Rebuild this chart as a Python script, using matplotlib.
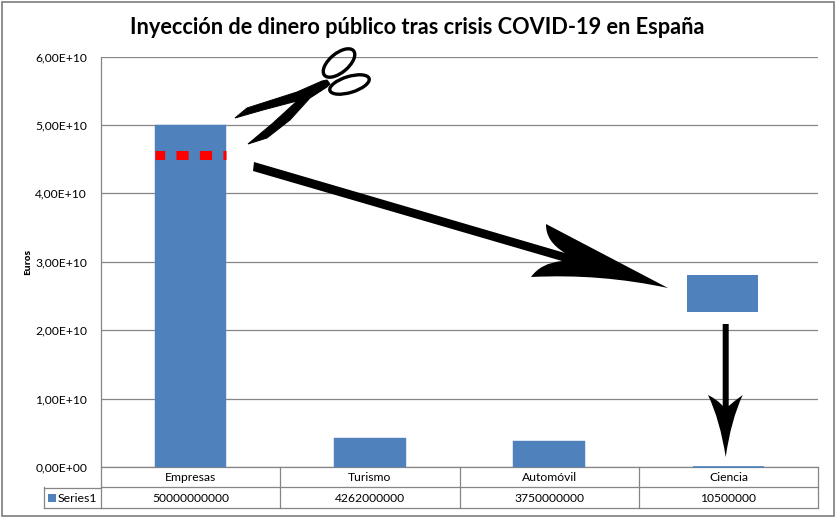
import matplotlib.pyplot as plt
from matplotlib.patches import Ellipse, PathPatch, Polygon, Rectangle
from matplotlib.path import Path

plt.rcParams['font.family'] = ['Lato', 'DejaVu Sans']

# Data
categories = ['Empresas', 'Turismo', 'Automóvil', 'Ciencia']
values = [50000000000, 4262000000, 3750000000, 10500000]
table_labels = ['50000000000', '4262000000', '3750000000', '10500000']
y_ticks = [0, 1e10, 2e10, 3e10, 4e10, 5e10, 6e10]
y_tick_labels = ['0,00E+00', '1,00E+10', '2,00E+10', '3,00E+10', '4,00E+10', '5,00E+10', '6,00E+10']
cut_level = 4.56e10

blue = '#4F81BD'
grey = '#868686'
W, H = 835, 517

fig = plt.figure(figsize=(W / 100, H / 100), dpi=100)

# Main plot area, placed in pixels
left, right, top, bottom = 101, 818, 56.5, 467
ax = fig.add_axes([left / W, 1 - bottom / H, (right - left) / W, (bottom - top) / H])
# the last bar is almost zero, a thicker edge keeps it visible
ax.bar(range(4), values, width=0.4, color=blue, edgecolor=blue,
       linewidth=[0.3, 0.3, 0.3, 1.2], zorder=3, clip_on=False)
ax.set_xlim(-0.5, 3.5)
ax.set_ylim(0, 6e10)
ax.set_yticks(y_ticks)
ax.set_yticklabels(y_tick_labels, fontsize=8.7, color='black')
ax.set_xticks([])
ax.tick_params(axis='y', length=0, pad=10)
ax.grid(True, axis='y', color=grey, linewidth=0.9, zorder=0)
for s in ['top', 'right']:
    ax.spines[s].set_visible(False)
ax.spines['left'].set_color(grey)
ax.spines['bottom'].set_color(grey)
ax.spines['left'].set_linewidth(0.9)
ax.spines['bottom'].set_linewidth(0.9)

# Red dashed cut line over the first bar
ax.plot([-0.2, 0.2], [cut_level, cut_level], color='#FF0000', linewidth=6.5,
        linestyle=(0.28, (1.35, 1.25)), dash_capstyle='butt', zorder=4)

# Overlay in pixel coordinates for table and drawn shapes
ov = fig.add_axes([0, 0, 1, 1], facecolor='none')
ov.set_xlim(0, W)
ov.set_ylim(H, 0)
ov.axis('off')

# Outer border
ov.add_patch(Rectangle((1.5, 1.5), 832, 514, fill=False, edgecolor=grey, linewidth=1.3))

# Data table below the plot (its top line is the axis spine)
columns = [101, 280, 459.5, 639, 818]
for yy in [487, 508]:
    ov.plot([101, 818], [yy, yy], color=grey, linewidth=0.9)
for xx in columns:
    ov.plot([xx, xx], [467, 508], color=grey, linewidth=0.9)
ov.plot([44, 101], [487.5, 487.5], color=grey, linewidth=0.9)
ov.plot([44, 101], [508, 508], color=grey, linewidth=0.9)
ov.plot([44, 44], [487, 508], color=grey, linewidth=0.9)
for i in range(4):
    cx = (columns[i] + columns[i + 1]) / 2
    ov.text(cx, 477.5, categories[i], ha='center', va='center', fontsize=8.7)
    ov.text(cx, 498, table_labels[i], ha='center', va='center', fontsize=8.7)
ov.add_patch(Rectangle((48, 494), 8, 8, color=blue, linewidth=0))
ov.text(58, 498, 'Series1', ha='left', va='center', fontsize=8.8)

# Titles
ov.text(417, 27, 'Inyección de dinero público tras crisis COVID-19 en España',
        ha='center', va='center', fontsize=15.7, fontweight='bold')
ov.text(28, 262, 'Euros', rotation=90, ha='center', va='center', fontsize=6.8,
        fontweight='bold', family=['Open Sans', 'DejaVu Sans'])

# Moved piece of the bar
ov.add_patch(Rectangle((687, 275), 71, 37, color=blue, linewidth=0))

# Long arrow
C3, L2, MV = Path.CURVE3, Path.LINETO, Path.MOVETO
long_arrow = Path(
    [(254, 162), (565, 253), (545.5, 241.5), (546, 224), (668, 288),
     (600.5, 273.5), (531, 277), (541, 263), (562, 261), (253, 171), (254, 162)],
    [MV, L2, C3, C3, L2, C3, C3, C3, C3, L2, L2])
ov.add_patch(PathPatch(long_arrow, facecolor='black', edgecolor='none'))

# Down arrow
down_arrow = Path(
    [(722.7, 324), (728.7, 324), (728.7, 406), (733, 402), (742.7, 395),
     (731, 420), (725.7, 457), (720, 420), (708, 395), (718, 400), (722.7, 406), (722.7, 324)],
    [MV, L2, L2, C3, C3, C3, C3, C3, C3, C3, C3, L2])
ov.add_patch(PathPatch(down_arrow, facecolor='black', edgecolor='none'))

# Scissors
ov.add_patch(Polygon([(235, 118), (247, 108), (297, 92), (322, 81), (327, 80), (330, 84),
                      (327, 87), (310, 98), (290, 120), (267, 138), (248, 144), (273, 123),
                      (297, 101), (263, 110)], closed=True, facecolor='black',
                     edgecolor='black', linewidth=0.7))
ov.add_patch(Ellipse((339, 63), 38, 19, angle=-40, fill=False, edgecolor='black', linewidth=2.4))
ov.add_patch(Ellipse((349.5, 84.5), 41, 16, angle=-17, fill=False, edgecolor='black', linewidth=2.4))

fig.savefig('out.png', dpi=100, facecolor='white')
